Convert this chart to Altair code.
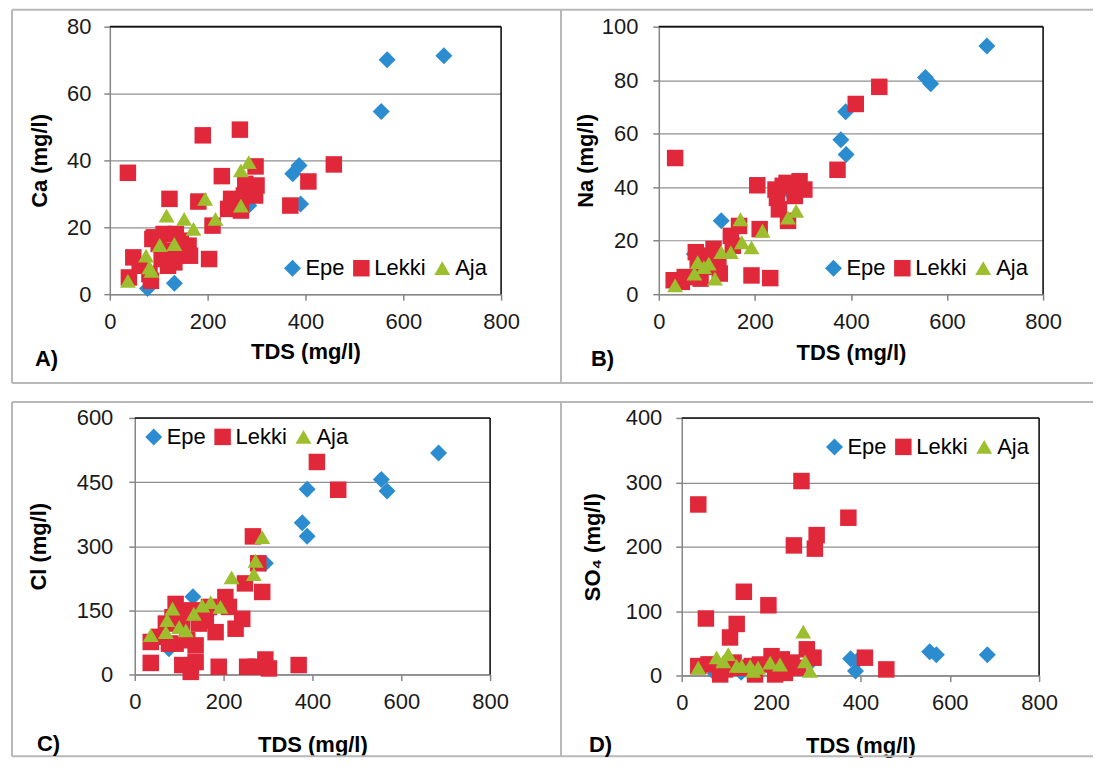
import altair as alt
import pandas as pd

SITES = ["Epe", "Lekki", "Aja"]
COLORS = ["#2B8CCF", "#E0283A", "#9DBF2E"]
SHAPES = ["diamond", "square", "triangle-up"]
FONT = "Liberation Sans"
FRAME = "#b8b8b8"
FS = 22

# ---------------- Panel A : Ca vs TDS ----------------
a_epe_tds = [77, 132, 284, 374, 387, 390, 555, 567, 683]
a_epe_val = [1.7, 3.3, 26.5, 36, 38.5, 27, 54.6, 70.1, 71.3]
a_lek_tds = [37, 190, 266, 229, 298, 406, 369, 122, 181, 248, 274, 297, 300, 277, 242, 268,
             210, 203, 161, 164, 132, 90, 110, 135, 152, 48, 61, 106, 119, 81, 39, 84, 87, 129,
             113, 458, 100, 145]
a_lek_val = [36.3, 47.5, 49.2, 35.3, 38.2, 33.7, 26.5, 28.5, 27.7, 28.5, 29.5, 29.5, 32.5, 33,
             25.5, 25, 20.5, 10.5, 14.5, 11.5, 9.5, 17, 18, 18, 13.5, 11, 8.5, 10.5, 8.5, 6, 5,
             4, 16.5, 12, 13, 38.8, 15, 16]
a_aja_tds = [284, 268, 195, 268, 216, 116, 152, 171, 102, 132, 74, 81, 85, 37]
a_aja_val = [39.5, 37, 28.5, 26.5, 22.5, 23.5, 22.5, 19.5, 14.7, 15, 11.5, 8, 7, 4]

# ---------------- Panel B : Na vs TDS ----------------
b_epe_tds = [74, 130, 273, 379, 389, 390, 555, 566, 683]
b_epe_val = [15, 27.4, 38, 57.7, 68.2, 52.2, 81, 78.7, 92.8]
b_lek_tds = [34, 372, 205, 243, 266, 293, 303, 246, 283, 250, 269, 210, 167, 150, 114, 101,
             77, 124, 81, 127, 48, 31, 193, 232, 87, 54, 154, 107, 410, 459, 258, 288]
b_lek_val = [50.9, 46.5, 40.7, 39.1, 41.6, 42.2, 39.1, 36, 36.7, 31.7, 27.4, 24.3, 25.5, 21.8,
             16.9, 14.4, 15.7, 12, 10.8, 7.7, 4.6, 5.2, 7, 6, 5.8, 6.4, 18.1, 10.2, 71.1, 77.5,
             40.5, 40]
b_aja_tds = [286, 269, 170, 216, 173, 193, 150, 130, 104, 81, 74, 117, 34, 94]
b_aja_val = [31.1, 28.6, 28, 23.7, 19.4, 17.5, 15.7, 15.7, 11.4, 12, 7.7, 5.8, 3.3, 10.1]

# ---------------- Panel C : Cl vs TDS ----------------
c_epe_tds = [77, 131, 294, 377, 388, 388, 555, 568, 684]
c_epe_val = [60, 182, 260, 355, 433, 323, 456, 429, 518]
c_lek_tds = [410, 458, 266, 278, 287, 248, 242, 227, 204, 212, 182, 167, 152, 145, 118, 92,
             107, 92, 118, 137, 70, 55, 36, 77, 36, 107, 126, 137, 189, 253, 272, 294, 302,
             369, 85, 160]
c_lek_val = [497, 432, 323, 260, 193, 213, 130, 107, 181, 158, 99, 158, 150, 119, 150, 165,
             119, 72, 80, 68, 119, 88, 76, 72, 27, 22, 6, 29, 18, 18, 18, 35, 14, 22, 134, 126]
c_aja_tds = [287, 272, 268, 218, 171, 193, 152, 133, 85, 73, 115, 70, 36, 100]
c_aja_val = [321, 266, 235, 227, 169, 158, 161, 142, 154, 127, 103, 99, 92, 111]

# ---------------- Panel D : SO4 vs TDS ----------------
d_epe_tds = [75, 133, 288, 378, 389, 392, 555, 570, 684]
d_epe_val = [3, 5, 20, 26, 7, 22, 37, 32, 32]
d_lek_tds = [37, 268, 373, 302, 298, 251, 139, 194, 54, 123, 108, 410, 458, 280, 295, 37, 60,
             86, 97, 127, 157, 164, 201, 224, 246, 209, 231, 261, 175, 116]
d_lek_val = [265.6, 302, 245, 218, 197, 202, 130, 109, 88.5, 80, 59, 27.6, 9.4, 40.6, 27.6,
             14.6, 17.2, 1.6, 9.4, 12, 14.6, 1.6, 30, 25, 20, 1.6, 4, 12, 17, 20]
d_aja_tds = [272, 276, 287, 220, 198, 171, 153, 134, 104, 78, 37, 93, 123, 160]
d_aja_val = [68, 22, 7, 17, 20, 12, 15, 15, 33, 28, 12, 22, 15, 7]


def make_df(epe_t, epe_v, lek_t, lek_v, aja_t, aja_v):
    rows = []
    for k, (site, ts, vs) in enumerate([("Epe", epe_t, epe_v), ("Lekki", lek_t, lek_v),
                                         ("Aja", aja_t, aja_v)]):
        for t, v in zip(ts, vs):
            rows.append({"site": site, "TDS": t, "val": v, "ord": k})
    return pd.DataFrame(rows)


def one():
    return pd.DataFrame({"k": [0]})


def hrule(x1, x2, y, color, w):
    return alt.Chart(one()).mark_rule(color=color, strokeWidth=w).encode(
        x=alt.value(x1), x2=alt.value(x2), y=alt.value(y))


def vrule(x, y1, y2, color, w):
    return alt.Chart(one()).mark_rule(color=color, strokeWidth=w).encode(
        x=alt.value(x), y=alt.value(y1), y2=alt.value(y2))


def spacer(w):
    return alt.Chart(one()).mark_point(opacity=0).encode(
        x=alt.value(0), y=alt.value(0)).properties(width=w, height=10)


def panel(df, ytitle, ymax, ystep, w, h, fr, label, lab_xy, leg_xy,
          ylab_pad, ytitle_pad, xtitle_pad):
    l, r, t, b = fr
    layers = [hrule(l, r, t, FRAME, 2), hrule(l, r, b, FRAME, 2), vrule(l, t, b, FRAME, 2)]
    layers += [hrule(0, w, 0, "#111111", 1.6), vrule(w, 0, h, "#111111", 1.6)]

    legend = alt.Legend(orient="none", legendX=leg_xy[0], legendY=leg_xy[1],
                        direction="horizontal", title=None, labelFont=FONT,
                        labelFontSize=FS, labelColor="black", symbolSize=240,
                        symbolStrokeWidth=0, columnPadding=5, labelOffset=2, padding=0)
    pts = alt.Chart(df).mark_point(filled=True, opacity=1, strokeWidth=0).encode(
        x=alt.X("TDS:Q", scale=alt.Scale(domain=[0, 800], nice=False),
                axis=alt.Axis(values=[0, 200, 400, 600, 800], title="TDS (mg/l)", grid=False,
                              labelPadding=11, titlePadding=xtitle_pad, labelFlush=False)),
        y=alt.Y("val:Q", scale=alt.Scale(domain=[0, ymax], nice=False),
                axis=alt.Axis(values=list(range(0, ymax + 1, ystep)), title=ytitle, grid=True,
                              labelPadding=ylab_pad, titlePadding=ytitle_pad)),
        color=alt.Color("site:N", scale=alt.Scale(domain=SITES, range=COLORS), legend=legend),
        shape=alt.Shape("site:N", scale=alt.Scale(domain=SITES, range=SHAPES), legend=legend),
        size=alt.Size("site:N", scale=alt.Scale(domain=SITES, range=[290, 255, 285]),
                      legend=None),
        order=alt.Order("ord:Q"),
    )
    txt = alt.Chart(one()).mark_text(text=label, align="left", baseline="middle", font=FONT,
                                     fontSize=FS, fontWeight="bold", color="black").encode(
        x=alt.value(lab_xy[0]), y=alt.value(lab_xy[1]))
    return alt.layer(*layers, pts, txt).properties(width=w, height=h)


def indep(c):
    return c.resolve_scale(x="independent", y="independent", color="independent",
                           shape="independent", size="independent").resolve_legend(
        color="independent", shape="independent", size="independent")


pA = panel(make_df(a_epe_tds, a_epe_val, a_lek_tds, a_lek_val, a_aja_tds, a_aja_val),
           "Ca (mg/l)", 80, 20, 392, 268, (-98, 452, -17, 357), "A)", (-75, 333),
           (172, 231), 13, 15, 9)
pB = panel(make_df(b_epe_tds, b_epe_val, b_lek_tds, b_lek_val, b_aja_tds, b_aja_val),
           "Na (mg/l)", 100, 20, 385, 268, (-98, 435, -17, 357), "B)", (-68, 333),
           (164, 231), 15, 4, 10)
pC = panel(make_df(c_epe_tds, c_epe_val, c_lek_tds, c_lek_val, c_aja_tds, c_aja_val),
           "Cl (mg/l)", 600, 150, 356, 257, (-123, 427, -16, 339), "C)", (-98, 327),
           (8, 8), 16, 26, 22)
pD = panel(make_df(d_epe_tds, d_epe_val, d_lek_tds, d_lek_val, d_aja_tds, d_aja_val),
           "SO\u2084 (mg/l)", 400, 100, 358, 258, (-121, 412, -16, 339), "D)", (-93, 328),
           (142, 18), 14, 21, 22)

row1 = indep(alt.hconcat(spacer(99), pA, spacer(158), pB, spacing=0, bounds="flush"))
row2 = indep(alt.hconcat(spacer(124), pC, spacer(192), pD, spacing=0, bounds="flush"))

chart = indep(alt.vconcat(row1, row2, spacing=17, bounds="full")).properties(
    padding=0
).configure_view(strokeWidth=0).configure_axis(
    domainColor="#868686", domainWidth=1.5, tickColor="#868686", tickWidth=1.5, tickSize=6,
    gridColor="#8f8f8f", gridWidth=1.2, labelFont=FONT, labelFontSize=FS, labelColor="#1a1a1a",
    titleFont=FONT, titleFontSize=FS, titleFontWeight="bold", titleColor="black"
)

chart.save("out.html", embed_options={"renderer": "svg", "actions": False})
